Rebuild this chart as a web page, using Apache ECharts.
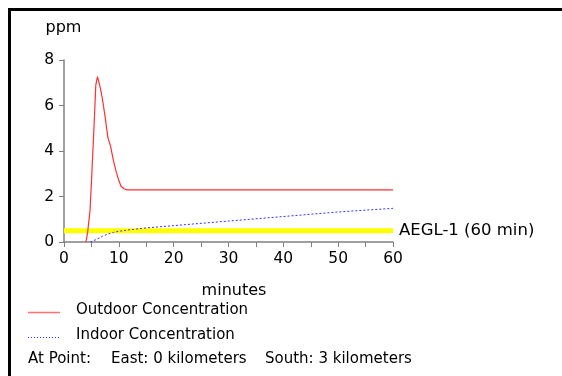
<!DOCTYPE html>
<html><head><meta charset="utf-8">
<script src="https://cdn.jsdelivr.net/npm/echarts@6/dist/echarts.min.js"></script>
<style>html,body{margin:0;padding:0;background:#fff}#c{width:562px;height:376px}</style>
</head><body><div id="c"></div>
<script>
const outdoorMin = [4, 4.3, 4.75, 5.0, 5.25, 5.5, 5.8, 6.1, 6.3, 6.6, 7.0, 7.5, 8.0, 8.5, 9.0, 9.5, 10.0, 10.4, 11.0, 11.6, 60];
const outdoorPpm = [0, 0.4, 1.4, 2.6, 3.9, 5.2, 6.9, 7.27, 7.2, 6.8, 6.3, 5.5, 4.6, 4.2, 3.6, 3.1, 2.7, 2.45, 2.33, 2.29, 2.29];
const indoorMin = [4.8, 6, 7, 8, 9, 10, 12, 15, 20, 25, 30, 35, 40, 45, 50, 55, 60];
const indoorPpm = [0, 0.12, 0.25, 0.35, 0.42, 0.47, 0.54, 0.62, 0.72, 0.82, 0.92, 1.02, 1.12, 1.22, 1.32, 1.4, 1.48];
const aeglMin = [0, 60];
const aeglPpm = [0.5, 0.5];
const aeglLabel = 'AEGL-1 (60 min)';
const xTicks = [0, 10, 20, 30, 40, 50, 60];
const yTicks = [0, 2, 4, 6, 8];
const legendNames = ['Outdoor Concentration', 'Indoor Concentration'];
const footer = ['At Point:', 'East: 0 kilometers', 'South: 3 kilometers'];

const F = 'DejaVu Sans';
const zip = (a, b) => a.map((v, i) => [v, b[i]]);
const chart = echarts.init(document.getElementById('c'));
chart.setOption({
  animation: false,
  textStyle: {fontFamily: F},
  grid: {left: 64, right: 169, top: 60, bottom: 134},
  xAxis: {
    type: 'value', min: 0, max: 60, interval: 5,
    axisLine: {lineStyle: {color: '#808080', width: 1.5}},
    axisTick: {show: true, length: 5, lineStyle: {color: '#808080', width: 1}},
    splitLine: {show: false},
    axisLabel: {color: '#000', fontSize: 15.5, fontFamily: F, margin: 9,
      formatter: v => xTicks.includes(v) ? String(v) : ''}
  },
  yAxis: {
    type: 'value', min: 0, max: 8, interval: 2,
    axisLine: {show: true, lineStyle: {color: '#808080', width: 1.5}},
    axisTick: {show: true, length: 5, lineStyle: {color: '#808080', width: 1}},
    splitLine: {show: false},
    axisLabel: {color: '#000', fontSize: 15.5, fontFamily: F, margin: 10,
      formatter: v => yTicks.includes(v) ? String(v) : ''}
  },
  series: [
    {type: 'line', data: zip(aeglMin, aeglPpm), symbol: 'none', silent: true,
      lineStyle: {color: '#ffff00', width: 5},
      endLabel: {show: true, formatter: aeglLabel, color: '#000', fontSize: 16.5, fontFamily: F, distance: 6}},
    {type: 'line', data: zip(outdoorMin, outdoorPpm), symbol: 'none',
      lineStyle: {color: '#ff3030', width: 1.2}},
    {type: 'line', data: zip(indoorMin, indoorPpm), symbol: 'none',
      lineStyle: {color: '#3333ff', width: 1, type: [2, 2]}}
  ],
  graphic: [
    {type: 'rect', shape: {x: 8, y: 8, width: 554, height: 3}, style: {fill: '#000'}},
    {type: 'rect', shape: {x: 8, y: 8, width: 3, height: 368}, style: {fill: '#000'}},
    {type: 'text', x: 63.5, y: 28, style: {text: 'ppm', font: '16px "DejaVu Sans"', fill: '#000', align: 'center', verticalAlign: 'middle'}},
    {type: 'text', x: 234, y: 291, style: {text: 'minutes', font: '16px "DejaVu Sans"', fill: '#000', align: 'center', verticalAlign: 'middle'}},
    {type: 'line', shape: {x1: 28, y1: 312.5, x2: 60, y2: 312.5}, style: {stroke: '#ff7070', lineWidth: 1.5}},
    {type: 'text', x: 76, y: 310, style: {text: legendNames[0], font: '15px "DejaVu Sans"', fill: '#000', verticalAlign: 'middle'}},
    {type: 'line', shape: {x1: 28, y1: 337.5, x2: 60, y2: 337.5}, style: {stroke: '#3333ff', lineWidth: 1, lineDash: [1, 2]}},
    {type: 'text', x: 76, y: 335, style: {text: legendNames[1], font: '15px "DejaVu Sans"', fill: '#000', verticalAlign: 'middle'}},
    {type: 'text', x: 28, y: 359, style: {text: footer[0], font: '15px "DejaVu Sans"', fill: '#000', verticalAlign: 'middle'}},
    {type: 'text', x: 111, y: 359, style: {text: footer[1], font: '15px "DejaVu Sans"', fill: '#000', verticalAlign: 'middle'}},
    {type: 'text', x: 265, y: 359, style: {text: footer[2], font: '15px "DejaVu Sans"', fill: '#000', verticalAlign: 'middle'}}
  ]
});
</script></body></html>
